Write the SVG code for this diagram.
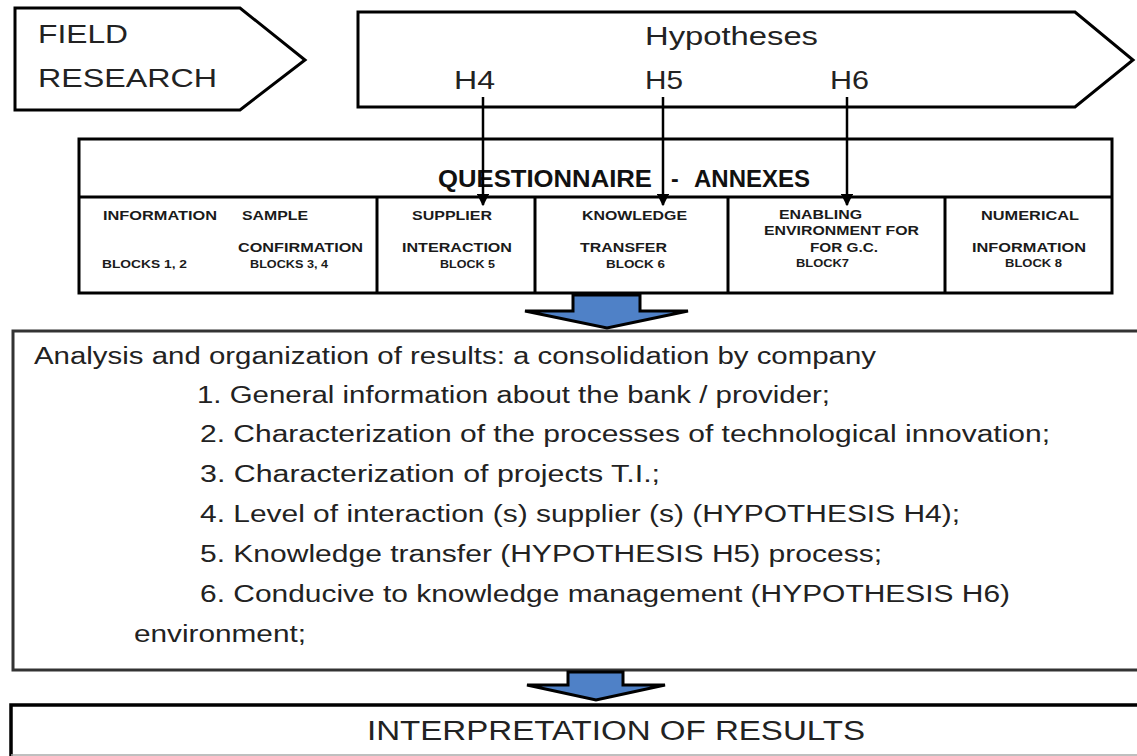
<svg xmlns="http://www.w3.org/2000/svg" width="1137" height="756" viewBox="0 0 1137 756">
  <defs>
    <style>
      .shape { fill: #ffffff; stroke: #000000; stroke-width: 3; stroke-linejoin: miter; }
      .rule { stroke: #000000; stroke-width: 3; fill: none; }
      .big { font-family: "Liberation Sans", Arial, sans-serif; font-size: 25px; fill: #222222; }
      .head { font-family: "Liberation Sans", Arial, sans-serif; font-size: 23px; font-weight: bold; fill: #111111; }
      .cell { font-family: "Liberation Sans", Arial, sans-serif; font-size: 13.5px; font-weight: bold; fill: #1a1a1a; }
      .blk { font-family: "Liberation Sans", Arial, sans-serif; font-size: 11px; font-weight: bold; fill: #1a1a1a; }
      .body { font-family: "Liberation Sans", Arial, sans-serif; font-size: 23px; fill: #222222; }
      .link { stroke: #000000; stroke-width: 2.5; fill: none; }
      .block-arrow { fill: #4f81c7; stroke: #000000; stroke-width: 3; stroke-linejoin: miter; }
    </style>
    <marker id="tip" viewBox="0 0 10 10" refX="9" refY="5" markerWidth="5" markerHeight="5" orient="auto" markerUnits="strokeWidth">
      <path d="M0,0 L10,5 L0,10 z" fill="#000000"/>
    </marker>
  </defs>

  <!-- Field research tag -->
  <g id="field-research">
    <polygon class="shape" points="15,8 240,8 305,60 240,110 15,110"/>
    <text class="big" x="38" y="43" textLength="90" lengthAdjust="spacingAndGlyphs">FIELD</text>
    <text class="big" x="38" y="87" textLength="179" lengthAdjust="spacingAndGlyphs">RESEARCH</text>
  </g>

  <!-- Hypotheses banner -->
  <g id="hypotheses">
    <polygon class="shape" points="358,12 1075,12 1133,60 1075,107 358,107"/>
    <text class="big" x="645" y="45" textLength="173" lengthAdjust="spacingAndGlyphs">Hypotheses</text>
    <text class="big" x="454" y="89" textLength="41" lengthAdjust="spacingAndGlyphs">H4</text>
    <text class="big" x="645" y="89" textLength="38" lengthAdjust="spacingAndGlyphs">H5</text>
    <text class="big" x="830" y="89" textLength="39" lengthAdjust="spacingAndGlyphs">H6</text>
  </g>

  <!-- Questionnaire table -->
  <g id="questionnaire">
    <rect class="shape" x="79" y="139" width="1033" height="154"/>
    <line class="rule" x1="79" y1="197" x2="1112" y2="197"/>
    <line class="rule" x1="377" y1="197" x2="377" y2="293"/>
    <line class="rule" x1="535" y1="197" x2="535" y2="293"/>
    <line class="rule" x1="728" y1="197" x2="728" y2="293"/>
    <line class="rule" x1="945" y1="197" x2="945" y2="293"/>
    <text class="head" x="438" y="187" textLength="214" lengthAdjust="spacingAndGlyphs">QUESTIONNAIRE</text>
    <text class="head" x="671" y="187">-</text>
    <text class="head" x="694" y="187" textLength="116" lengthAdjust="spacingAndGlyphs">ANNEXES</text>
  </g>

  <g id="cell-information">
    <text class="cell" x="103" y="220" textLength="114" lengthAdjust="spacingAndGlyphs">INFORMATION</text>
    <text class="blk" x="102" y="268" textLength="85" lengthAdjust="spacingAndGlyphs">BLOCKS 1,  2</text>
  </g>
  <g id="cell-sample">
    <text class="cell" x="242" y="220" textLength="66" lengthAdjust="spacingAndGlyphs">SAMPLE</text>
    <text class="cell" x="238" y="252" textLength="125" lengthAdjust="spacingAndGlyphs">CONFIRMATION</text>
    <text class="blk" x="250" y="268" textLength="78" lengthAdjust="spacingAndGlyphs">BLOCKS 3, 4</text>
  </g>
  <g id="cell-supplier">
    <text class="cell" x="412" y="220" textLength="80" lengthAdjust="spacingAndGlyphs">SUPPLIER</text>
    <text class="cell" x="402" y="252" textLength="110" lengthAdjust="spacingAndGlyphs">INTERACTION</text>
    <text class="blk" x="440" y="268" textLength="55" lengthAdjust="spacingAndGlyphs">BLOCK 5</text>
  </g>
  <g id="cell-knowledge">
    <text class="cell" x="582" y="220" textLength="105" lengthAdjust="spacingAndGlyphs">KNOWLEDGE</text>
    <text class="cell" x="580" y="252" textLength="87" lengthAdjust="spacingAndGlyphs">TRANSFER</text>
    <text class="blk" x="606" y="268" textLength="59" lengthAdjust="spacingAndGlyphs">BLOCK 6</text>
  </g>
  <g id="cell-enabling">
    <text class="cell" x="779" y="219" textLength="83" lengthAdjust="spacingAndGlyphs">ENABLING</text>
    <text class="cell" x="764" y="235" textLength="155" lengthAdjust="spacingAndGlyphs">ENVIRONMENT FOR</text>
    <text class="cell" x="810" y="252" textLength="68" lengthAdjust="spacingAndGlyphs">FOR G.C.</text>
    <text class="blk" x="796" y="267" textLength="53" lengthAdjust="spacingAndGlyphs">BLOCK7</text>
  </g>
  <g id="cell-numerical">
    <text class="cell" x="981" y="220" textLength="98" lengthAdjust="spacingAndGlyphs">NUMERICAL</text>
    <text class="cell" x="972" y="252" textLength="114" lengthAdjust="spacingAndGlyphs">INFORMATION</text>
    <text class="blk" x="1005" y="267" textLength="57" lengthAdjust="spacingAndGlyphs">BLOCK 8</text>
  </g>

  <!-- Analysis block -->
  <g id="analysis">
    <rect x="13" y="331" width="1140" height="339" fill="#ffffff" stroke="#333333" stroke-width="3"/>
    <text class="body" x="34" y="364" textLength="842" lengthAdjust="spacingAndGlyphs">Analysis and organization of results: a consolidation by company</text>
    <text class="body" x="197" y="403" textLength="633" lengthAdjust="spacingAndGlyphs">1. General information about the bank / provider;</text>
    <text class="body" x="200" y="442" textLength="850" lengthAdjust="spacingAndGlyphs">2. Characterization of the processes of technological innovation;</text>
    <text class="body" x="200" y="482" textLength="460" lengthAdjust="spacingAndGlyphs">3. Characterization of projects T.I.;</text>
    <text class="body" x="200" y="522" textLength="760" lengthAdjust="spacingAndGlyphs">4. Level of interaction (s) supplier (s) (HYPOTHESIS H4);</text>
    <text class="body" x="200" y="562" textLength="682" lengthAdjust="spacingAndGlyphs">5. Knowledge transfer (HYPOTHESIS H5) process;</text>
    <text class="body" x="200" y="602" textLength="810" lengthAdjust="spacingAndGlyphs">6. Conducive to knowledge management (HYPOTHESIS H6)</text>
    <text class="body" x="134" y="642" textLength="172" lengthAdjust="spacingAndGlyphs">environment;</text>
  </g>

  <!-- Interpretation block -->
  <g id="interpretation">
    <rect x="11" y="705" width="1140" height="49" fill="#ffffff" stroke="none"/>
    <path d="M1140,705 H11 V756" fill="none" stroke="#000000" stroke-width="3.5"/>
    <line x1="11" y1="755" x2="1137" y2="755" stroke="#aaaaaa" stroke-width="1.5"/>
    <text class="big" x="367" y="740" textLength="498" lengthAdjust="spacingAndGlyphs" style="font-size:27px">INTERPRETATION OF RESULTS</text>
  </g>

  <!-- Connectors -->
  <g id="connectors">
    <line class="link" x1="483" y1="97" x2="483" y2="205" marker-end="url(#tip)"/>
    <line class="link" x1="663" y1="97" x2="663" y2="205" marker-end="url(#tip)"/>
    <line class="link" x1="847" y1="97" x2="847" y2="205" marker-end="url(#tip)"/>
    <polygon class="block-arrow" points="573,295 640,295 640,311 688,311 607,328 525,311 573,311"/>
    <polygon class="block-arrow" points="568,672 623,672 623,685 665,685 596,700 527,685 568,685"/>
  </g>
</svg>
